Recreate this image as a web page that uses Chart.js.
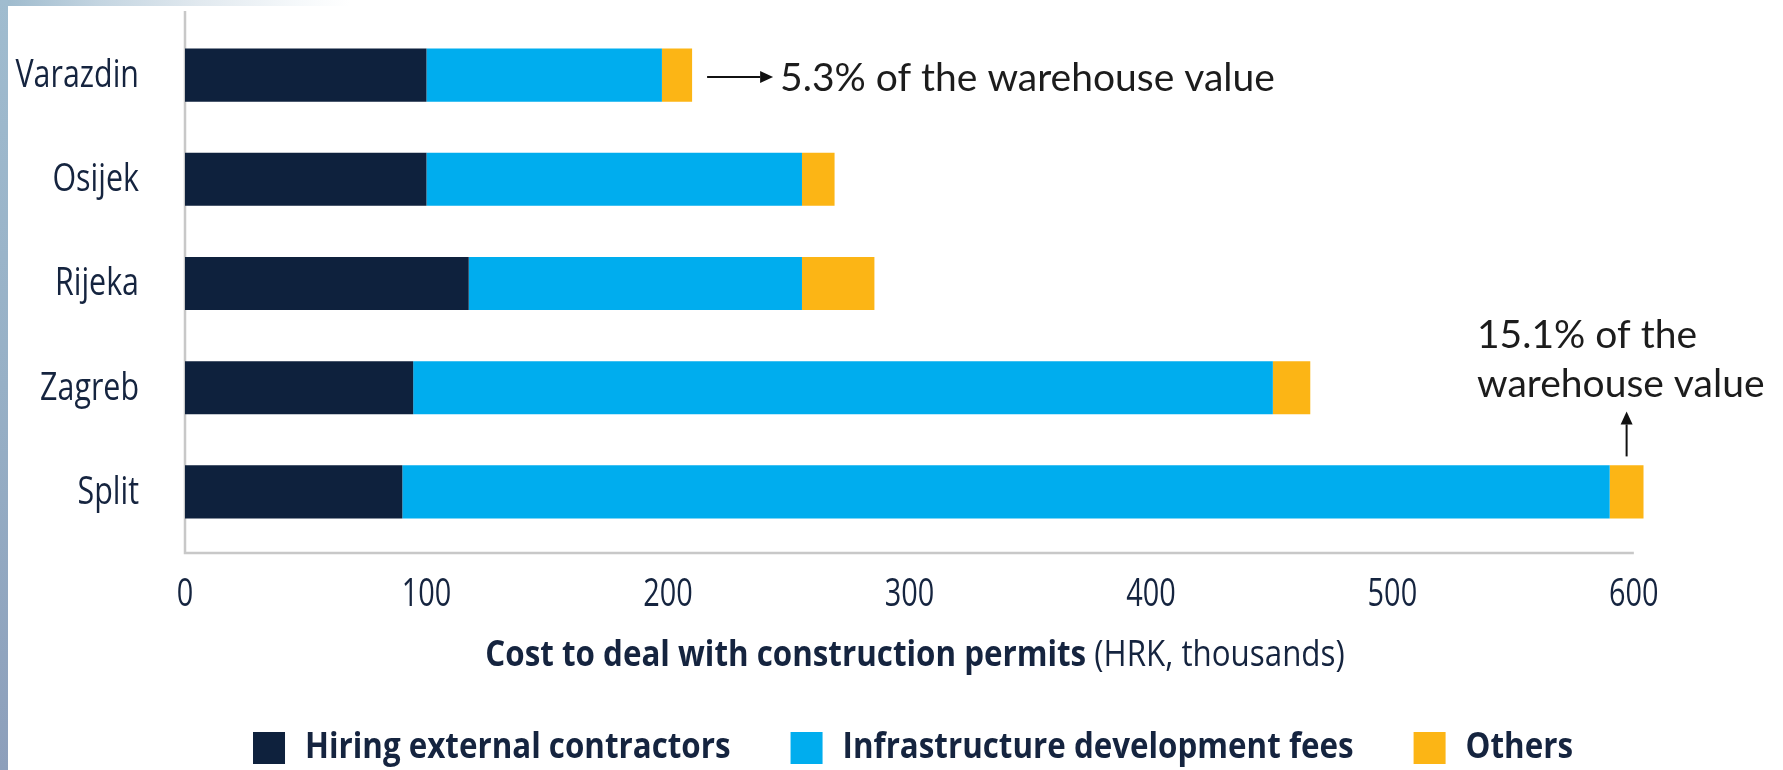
<!DOCTYPE html>
<html lang="en">
<head>
<meta charset="UTF-8">
<title>Cost to deal with construction permits</title>
<script src="https://cdn.jsdelivr.net/npm/chart.js"></script>
<style>
    html, body {
        margin: 0;
        padding: 0;
        width: 1783px;
        height: 770px;
        overflow: hidden;
        background: #fff;
    }
    #topStrip {
        position: absolute; left: 0; top: 0; width: 1783px; height: 6px;
        background: linear-gradient(to right, #9cb9cc 0px, #c4d5e1 100px, #e1e9ef 200px, #f6f9fb 300px, #ffffff 350px);
    }
    #leftStrip {
        position: absolute; left: 0; top: 0; width: 8px; height: 770px;
        background: linear-gradient(to bottom, #a0bccf 0%, #97b0c6 50%, #8d9fbb 100%);
    }
    #chart {
        position: absolute; left: 0; top: 0;
    }
</style>
</head>
<body>
<div id="topStrip"></div>
<div id="leftStrip"></div>
<canvas id="chart" width="1783" height="770"></canvas>

<script>
    // data (HRK, thousands)
    const cities = ['Varazdin', 'Osijek', 'Rijeka', 'Zagreb', 'Split'];
    const hiring = [100, 100, 117.5, 94.5, 90];
    const infraFees = [97.5, 155.5, 138, 356, 500];
    const others = [12.5, 13.5, 30, 15.5, 14];
    const xTicks = [0, 100, 200, 300, 400, 500, 600];

    const seriesNames = ['Hiring external contractors', 'Infrastructure development fees', 'Others'];
    const colors = ['#0e213d', '#00adee', '#fcb515'];

    const labelColor = '#15243f';

    // text squeezed sideways to look like a condensed face
    function condensedText(ctx, text, x, y, font, align, sx) {
        ctx.save();
        ctx.font = font;
        ctx.fillStyle = labelColor;
        ctx.textBaseline = 'middle';
        ctx.textAlign = align;
        ctx.translate(x, y);
        ctx.scale(sx, 1);
        ctx.fillText(text, 0, 0);
        ctx.restore();
    }

    function textWidth(ctx, text, font, sx) {
        ctx.save();
        ctx.font = font;
        const w = ctx.measureText(text).width * sx;
        ctx.restore();
        return w;
    }

    function arrow(ctx, x1, y1, x2, y2) {
        const ang = Math.atan2(y2 - y1, x2 - x1);
        const head = 13;
        ctx.save();
        ctx.strokeStyle = '#111';
        ctx.fillStyle = '#111';
        ctx.lineWidth = 2;
        ctx.beginPath();
        ctx.moveTo(x1, y1);
        ctx.lineTo(x2 - head * Math.cos(ang), y2 - head * Math.sin(ang));
        ctx.stroke();
        ctx.beginPath();
        ctx.moveTo(x2, y2);
        ctx.lineTo(x2 - head * Math.cos(ang) + 6 * Math.sin(ang), y2 - head * Math.sin(ang) - 6 * Math.cos(ang));
        ctx.lineTo(x2 - head * Math.cos(ang) - 6 * Math.sin(ang), y2 - head * Math.sin(ang) + 6 * Math.cos(ang));
        ctx.closePath();
        ctx.fill();
        ctx.restore();
    }

    // axis lines go under the bars
    const axisLines = {
        id: 'axisLines',
        beforeDatasetsDraw(chart) {
            const ctx = chart.ctx;
            const a = chart.chartArea;
            const xEnd = chart.scales.x.getPixelForValue(600);
            ctx.save();
            ctx.strokeStyle = '#c8c8c8';
            ctx.lineWidth = 2.5;
            ctx.beginPath();
            ctx.moveTo(a.left, a.top - 12);
            ctx.lineTo(a.left, a.bottom + 9);
            ctx.lineTo(xEnd, a.bottom + 9);
            ctx.stroke();
            ctx.restore();
        }
    };

    // labels, axis title, legend and the two notes
    const textLayer = {
        id: 'textLayer',
        afterDraw(chart) {
            const ctx = chart.ctx;
            const xs = chart.scales.x;
            const ys = chart.scales.y;
            const a = chart.chartArea;

            // category labels
            cities.forEach((c, i) => {
                condensedText(ctx, c, 139, ys.getPixelForValue(i) + 1, '38px "Open Sans"', 'right', 0.8);
            });

            // x tick labels
            xTicks.forEach(v => {
                condensedText(ctx, String(v), xs.getPixelForValue(v), a.bottom + 51, '38px "Open Sans"', 'center', 0.76);
            });

            // axis title: bold part + normal part
            const tBold = 'Cost to deal with construction permits';
            const tNorm = ' (HRK, thousands)';
            const fBold = 'bold 36px "Open Sans"';
            const fNorm = '36px "Open Sans"';
            const w1 = textWidth(ctx, tBold, fBold, 0.87);
            const w2 = textWidth(ctx, tNorm, fNorm, 0.87);
            let tx = 915 - (w1 + w2) / 2;
            condensedText(ctx, tBold, tx, a.bottom + 112, fBold, 'left', 0.87);
            condensedText(ctx, tNorm, tx + w1, a.bottom + 112, fNorm, 'left', 0.87);

            // legend
            const fLeg = 'bold 36px "Open Sans"';
            const box = 32, gap = 20, itemGap = 60;
            const widths = seriesNames.map(n => textWidth(ctx, n, fLeg, 0.87));
            let total = 0;
            widths.forEach((w, i) => { total += box + gap + w + (i < widths.length - 1 ? itemGap : 0); });
            let lx = 913 - total / 2;
            const ly = 748;
            seriesNames.forEach((n, i) => {
                ctx.fillStyle = colors[i];
                ctx.fillRect(lx, ly - box / 2, box, box);
                condensedText(ctx, n, lx + box + gap, ly, fLeg, 'left', 0.87);
                lx += box + gap + widths[i] + itemGap;
            });

            // note on Varazdin
            const vEnd = xs.getPixelForValue(hiring[0] + infraFees[0] + others[0]);
            const vy = ys.getPixelForValue(0) + 2;
            arrow(ctx, vEnd + 15, vy, vEnd + 81, vy);
            ctx.save();
            ctx.font = '39px Lato';
            ctx.fillStyle = '#1c1c1c';
            ctx.textBaseline = 'alphabetic';
            ctx.textAlign = 'left';
            ctx.fillText('5.3% of the warehouse value', vEnd + 88, 91);

            // note on Split
            const last = cities.length - 1;
            const sx = xs.getPixelForValue(hiring[last] + infraFees[last] + others[last] / 2);
            const barTop = ys.getPixelForValue(last) - 26.5;
            ctx.fillText('15.1% of the', 1477, 348);
            ctx.fillText('warehouse value', 1477, 397);
            ctx.restore();
            arrow(ctx, sx, barTop - 9, sx, barTop - 54);
        }
    };

    const ctx = document.getElementById('chart').getContext('2d');
    new Chart(ctx, {
        type: 'bar',
        data: {
            labels: cities,
            datasets: [
                { label: seriesNames[0], data: hiring, backgroundColor: colors[0] },
                { label: seriesNames[1], data: infraFees, backgroundColor: colors[1] },
                { label: seriesNames[2], data: others, backgroundColor: colors[2] }
            ]
        },
        options: {
            indexAxis: 'y',
            responsive: false,
            animation: false,
            layout: {
                padding: { left: 185, right: 125, top: 23, bottom: 226 }
            },
            datasets: {
                bar: { categoryPercentage: 0.51, barPercentage: 1, borderWidth: 0 }
            },
            plugins: {
                legend: { display: false },
                tooltip: { enabled: false }
            },
            scales: {
                x: { display: false, stacked: true, min: 0, max: 610 },
                y: { display: false, stacked: true }
            }
        },
        plugins: [axisLines, textLayer]
    });
</script>
</body>
</html>
